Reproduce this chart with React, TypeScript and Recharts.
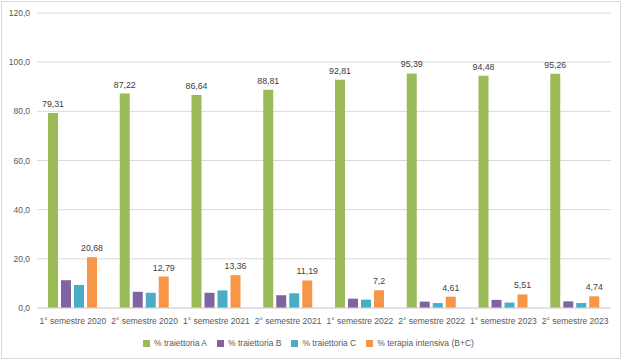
import React from 'react';
import { BarChart, Bar, XAxis, YAxis, CartesianGrid, Legend, LabelList } from 'recharts';

const categories = [
  '1° semestre 2020', '2° semestre 2020', '1° semestre 2021', '2° semestre 2021',
  '1° semestre 2022', '2° semestre 2022', '1° semestre 2023', '2° semestre 2023',
];
const trajA = [79.31, 87.22, 86.64, 88.81, 92.81, 95.39, 94.48, 95.26];
const trajB = [11.3, 6.6, 6.2, 5.2, 3.8, 2.6, 3.3, 2.7];
const trajC = [9.38, 6.19, 7.16, 5.99, 3.4, 2.01, 2.21, 2.04];
const intensive = [20.68, 12.79, 13.36, 11.19, 7.2, 4.61, 5.51, 4.74];
const yTicks = [0, 20, 40, 60, 80, 100, 120];
const seriesOrder = ['A', 'B', 'C', 'BC'];

const data = categories.map((c, i) => ({
  name: c,
  A: trajA[i],
  B: trajB[i],
  C: trajC[i],
  BC: intensive[i],
}));

const FONT = "'Liberation Sans', Arial, sans-serif";
const fmtTick = (v: number) => v.toFixed(1).replace('.', ',');
const fmtLabel = (v: any) => String(v).replace('.', ',');

export default function App() {
  return (
    <div style={{ position: 'absolute', left: 0, top: 0, width: 623, height: 361, background: '#fff' }}>
      <div style={{ position: 'absolute', left: 1, top: 1, width: 620, height: 358, border: '1px solid #d9d9d9', boxSizing: 'border-box' }} />
      <BarChart
        width={623}
        height={361}
        data={data}
        margin={{ top: 13, right: 12, left: 0, bottom: 3 }}
        barCategoryGap="16%"
        barGap={3}
        style={{ fontFamily: FONT }}
      >
        <CartesianGrid vertical={false} stroke="#d9d9d9" />
        <XAxis
          dataKey="name"
          tick={{ fill: '#595959', fontSize: 8.5, fontFamily: FONT }}
          tickLine={false}
          axisLine={{ stroke: '#d9d9d9' }}
          tickMargin={4}
          height={30}
          interval={0}
        />
        <YAxis
          domain={[0, 120]}
          ticks={yTicks}
          tickFormatter={fmtTick}
          tick={{ fill: '#595959', fontSize: 8.5, fontFamily: FONT }}
          tickLine={false}
          axisLine={false}
          tickSize={0}
          tickMargin={7}
          width={37}
        />
        <Legend
          verticalAlign="bottom"
          iconType="square"
          iconSize={7}
          height={20}
          itemSorter={(item: any) => seriesOrder.indexOf(item.dataKey)}
          wrapperStyle={{ fontSize: 8.5, fontFamily: FONT, color: '#595959', left: 8 }}
          formatter={(value: string) => <span style={{ color: '#595959' }}>{value}</span>}
        />
        <Bar dataKey="A" name="% traiettoria A" fill="#9BBB59" barSize={10} isAnimationActive={false}>
          <LabelList dataKey="A" position="top" formatter={fmtLabel} fill="#404040" fontSize={8.8} offset={6} />
        </Bar>
        <Bar dataKey="B" name="% traiettoria B" fill="#8064A2" barSize={10} isAnimationActive={false} />
        <Bar dataKey="C" name="% traiettoria C" fill="#4BACC6" barSize={10} isAnimationActive={false} />
        <Bar dataKey="BC" name="% terapia intensiva (B+C)" fill="#F79646" barSize={10} isAnimationActive={false}>
          <LabelList dataKey="BC" position="top" formatter={fmtLabel} fill="#404040" fontSize={8.8} offset={6} />
        </Bar>
      </BarChart>
    </div>
  );
}
